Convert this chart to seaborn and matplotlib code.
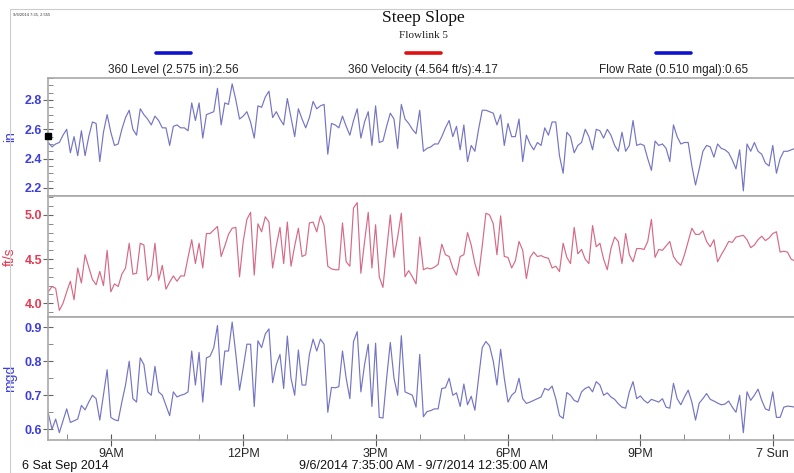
import pandas as pd
import numpy as np
import matplotlib
matplotlib.use('Agg')
import matplotlib.pyplot as plt
import matplotlib.dates as mdates
from matplotlib.ticker import MultipleLocator, FuncFormatter
from matplotlib.patches import Rectangle
import seaborn as sns

sns.set_style('white')
plt.rcParams['font.family'] = ['Liberation Sans', 'DejaVu Sans']

# 5-minute readings, 9/6/2014 7:35 AM - 9/7/2014 12:35 AM
times = pd.date_range('2014-09-06 07:35', '2014-09-07 00:35', freq='5min')

level = [
    2.51, 2.48, 2.50, 2.51, 2.56, 2.60, 2.44, 2.55, 2.42, 2.59,
    2.42, 2.55, 2.65, 2.64, 2.38, 2.58, 2.70, 2.58, 2.49, 2.50,
    2.60, 2.68, 2.73, 2.60, 2.56, 2.74, 2.70, 2.67, 2.63, 2.69,
    2.66, 2.61, 2.61, 2.49, 2.62, 2.63, 2.61, 2.61, 2.59, 2.78,
    2.66, 2.78, 2.54, 2.70, 2.71, 2.72, 2.88, 2.63, 2.78, 2.77,
    2.91, 2.80, 2.67, 2.69, 2.72, 2.65, 2.54, 2.76, 2.75, 2.82,
    2.86, 2.68, 2.72, 2.67, 2.63, 2.81, 2.68, 2.55, 2.74, 2.67,
    2.61, 2.68, 2.79, 2.74, 2.76, 2.77, 2.43, 2.64, 2.63, 2.61,
    2.69, 2.62, 2.56, 2.66, 2.74, 2.54, 2.65, 2.72, 2.49, 2.76,
    2.51, 2.52, 2.62, 2.71, 2.67, 2.47, 2.77, 2.67, 2.64, 2.60,
    2.57, 2.73, 2.45, 2.47, 2.48, 2.50, 2.50, 2.55, 2.61, 2.66,
    2.55, 2.62, 2.46, 2.63, 2.38, 2.49, 2.45, 2.60, 2.73, 2.73,
    2.72, 2.71, 2.63, 2.70, 2.49, 2.64, 2.55, 2.55, 2.67, 2.38,
    2.56, 2.50, 2.46, 2.51, 2.49, 2.61, 2.56, 2.65, 2.65, 2.42,
    2.30, 2.58, 2.55, 2.44, 2.49, 2.51, 2.60, 2.55, 2.46, 2.60,
    2.59, 2.54, 2.60, 2.56, 2.49, 2.45, 2.58, 2.45, 2.49, 2.66,
    2.49, 2.50, 2.49, 2.40, 2.32, 2.52, 2.49, 2.50, 2.47, 2.38,
    2.63, 2.55, 2.50, 2.51, 2.51, 2.35, 2.22, 2.33, 2.45, 2.49,
    2.48, 2.41, 2.50, 2.47, 2.46, 2.44, 2.39, 2.33, 2.46, 2.18,
    2.50, 2.45, 2.51, 2.45, 2.43, 2.37, 2.35, 2.49, 2.30, 2.40,
    2.45, 2.45, 2.46, 2.47, 2.47,
]

velocity = [
    4.13, 4.19, 4.17, 3.92, 4.00, 4.13, 4.25, 4.04, 4.40, 4.23,
    4.55, 4.41, 4.27, 4.21, 4.36, 4.20, 4.60, 4.13, 4.22, 4.19,
    4.33, 4.40, 4.68, 4.33, 4.34, 4.68, 4.66, 4.26, 4.32, 4.68,
    4.26, 4.43, 4.16, 4.24, 4.31, 4.25, 4.31, 4.31, 4.52, 4.72,
    4.45, 4.68, 4.40, 4.79, 4.79, 4.83, 4.87, 4.53, 4.65, 4.78,
    4.85, 4.86, 4.30, 4.70, 4.95, 5.03, 4.32, 4.90, 4.81, 4.98,
    4.92, 4.40, 4.65, 4.86, 4.45, 4.92, 4.42, 4.65, 4.85, 4.53,
    4.55, 4.91, 4.92, 4.81, 4.99, 4.88, 4.42, 4.39, 4.38, 4.38,
    4.91, 4.47, 4.42, 5.08, 5.14, 4.34, 4.70, 5.03, 4.40, 4.89,
    4.30, 4.18, 4.60, 5.00, 4.52, 4.75, 5.02, 4.30, 4.37, 4.30,
    4.22, 4.75, 4.38, 4.40, 4.39, 4.41, 4.44, 4.67, 4.55, 4.53,
    4.40, 4.32, 4.53, 4.55, 4.80, 4.66, 4.45, 4.31, 4.65, 5.02,
    5.00, 4.90, 4.55, 4.99, 4.53, 4.52, 4.40, 4.48, 4.70, 4.60,
    4.28, 4.52, 4.58, 4.53, 4.54, 4.52, 4.51, 4.40, 4.42, 4.36,
    4.68, 4.52, 4.45, 4.86, 4.56, 4.61, 4.50, 4.45, 4.88, 4.64,
    4.68, 4.50, 4.38, 4.62, 4.75, 4.70, 4.45, 4.79, 4.55, 4.47,
    4.62, 4.62, 4.61, 4.70, 4.95, 4.52, 4.61, 4.60, 4.65, 4.70,
    4.53, 4.47, 4.43, 4.55, 4.70, 4.85, 4.78, 4.78, 4.82, 4.70,
    4.64, 4.72, 4.47, 4.55, 4.62, 4.70, 4.69, 4.75, 4.76, 4.77,
    4.72, 4.63, 4.66, 4.72, 4.76, 4.71, 4.74, 4.79, 4.81, 4.58,
    4.59, 4.58, 4.50, 4.48, 4.45,
]

flow = [
    0.647, 0.600, 0.630, 0.590, 0.625, 0.660, 0.620, 0.625, 0.630, 0.670,
    0.657, 0.680, 0.700, 0.690, 0.627, 0.700, 0.775, 0.635, 0.628, 0.625,
    0.680, 0.730, 0.800, 0.690, 0.680, 0.810, 0.790, 0.710, 0.700, 0.785,
    0.710, 0.700, 0.670, 0.640, 0.710, 0.695, 0.700, 0.703, 0.710, 0.830,
    0.730, 0.826, 0.680, 0.810, 0.815, 0.840, 0.905, 0.730, 0.830, 0.830,
    0.915, 0.820, 0.715, 0.780, 0.850, 0.850, 0.667, 0.860, 0.840, 0.880,
    0.895, 0.737, 0.790, 0.820, 0.720, 0.874, 0.750, 0.700, 0.833, 0.730,
    0.730, 0.820, 0.865, 0.830, 0.865, 0.850, 0.650, 0.723, 0.722, 0.725,
    0.830, 0.750, 0.690, 0.858, 0.887, 0.710, 0.790, 0.850, 0.667, 0.853,
    0.635, 0.633, 0.750, 0.855, 0.750, 0.700, 0.875, 0.710, 0.705, 0.700,
    0.665, 0.820, 0.637, 0.652, 0.655, 0.660, 0.660, 0.720, 0.722, 0.750,
    0.700, 0.707, 0.667, 0.733, 0.672, 0.697, 0.656, 0.750, 0.840, 0.858,
    0.845, 0.800, 0.730, 0.835, 0.750, 0.680, 0.700, 0.710, 0.750, 0.690,
    0.676, 0.680, 0.685, 0.690, 0.695, 0.720, 0.715, 0.727, 0.690, 0.640,
    0.632, 0.708, 0.700, 0.685, 0.680, 0.710, 0.720, 0.725, 0.710, 0.740,
    0.730, 0.700, 0.707, 0.695, 0.688, 0.675, 0.665, 0.662, 0.710, 0.740,
    0.690, 0.698, 0.685, 0.677, 0.688, 0.684, 0.680, 0.690, 0.665, 0.662,
    0.735, 0.690, 0.672, 0.695, 0.715, 0.680, 0.627, 0.677, 0.690, 0.705,
    0.688, 0.683, 0.677, 0.672, 0.674, 0.683, 0.665, 0.650, 0.700, 0.590,
    0.710, 0.685, 0.700, 0.718, 0.685, 0.660, 0.655, 0.710, 0.635, 0.635,
    0.665, 0.668, 0.667, 0.665, 0.663,
]

cursor_value = 2.555
legend_labels = ['360 Level (2.575 in):2.56',
                 '360 Velocity (4.564 ft/s):4.17',
                 'Flow Rate (0.510 mgal):0.65']
legend_colors = ['#1010d0', '#e01010', '#1010d0']

df = pd.DataFrame({'time': times, 'level': level, 'velocity': velocity, 'flow': flow})

blue_line = '#7474c4'
red_line = '#d66a86'
blue_txt = '#3c3ce0'
red_txt = '#e8384f'
frame = '#a8a8a8'

fig = plt.figure(figsize=(7.94, 4.73), dpi=100)
fig.patches.append(Rectangle((10 / 794, 0), 1, 1 - 9 / 473, transform=fig.transFigure,
                             fill=False, edgecolor='#cccccc', lw=0.8))

left, width = 48.3 / 794, (798.5 - 48.3) / 794
ax1 = fig.add_axes([left, 1 - 196 / 473, width, (196 - 78) / 473])
ax2 = fig.add_axes([left, 1 - 317 / 473, width, (317 - 196) / 473], sharex=ax1)
ax3 = fig.add_axes([left, 1 - 440 / 473, width, (440 - 317) / 473], sharex=ax1)

panels = [
    (ax1, 'level', blue_line, blue_txt, 'in', (2.145, 2.95), 0.2, 0.05),
    (ax2, 'velocity', red_line, red_txt, 'ft/s', (3.845, 5.215), 0.5, 0.1),
    (ax3, 'flow', blue_line, blue_txt, 'mgd', (0.5685, 0.930), 0.1, 0.05),
]

for ax, col, lc, tc, unit, ylim, major, minor in panels:
    sns.lineplot(data=df, x='time', y=col, ax=ax, color=lc, lw=0.85)
    ax.set_ylim(*ylim)
    ax.yaxis.set_major_locator(MultipleLocator(major))
    ax.yaxis.set_minor_locator(MultipleLocator(minor))
    ax.yaxis.set_major_formatter(FuncFormatter(lambda v, p: '%.1f' % v))
    ax.tick_params(axis='y', which='major', left=True, direction='inout', length=7, width=0.8,
                   color='#666666', labelcolor=tc, labelsize=9, pad=1)
    ax.tick_params(axis='y', which='minor', left=True, direction='in', length=3.5, width=0.6,
                   color='#777777')
    for t in ax.get_yticklabels():
        t.set_fontweight('bold')
    ax.set_xlabel('')
    ax.set_ylabel(unit, color=tc, fontsize=10)
    ax.yaxis.set_label_coords(-0.042, 0.5)
    for s in ax.spines.values():
        s.set_color(frame)
        s.set_linewidth(1.2)
    ax.grid(False)

for ax in (ax1, ax2):
    ax.tick_params(axis='x', which='both', bottom=False, labelbottom=False)

ax1.plot([times[0]], [cursor_value], marker='s', ms=4, color='black', clip_on=False, zorder=5)

ax3.set_xlim(times[0], times[-1])
ax3.xaxis.set_major_locator(mdates.HourLocator(byhour=range(0, 24, 3)))
ax3.xaxis.set_minor_locator(mdates.HourLocator())


def hour_label(v, pos):
    d = mdates.num2date(v)
    if d.hour == 0:
        return '%d %s' % (d.day, d.strftime('%a'))
    h = d.hour % 12 or 12
    return '%d%s' % (h, 'AM' if d.hour < 12 else 'PM')


ax3.xaxis.set_major_formatter(FuncFormatter(hour_label))
ax3.tick_params(axis='x', which='major', bottom=True, direction='inout', length=9, width=0.8,
                color='#555555', labelsize=9, pad=1)
ax3.tick_params(axis='x', which='minor', bottom=True, direction='in', length=4.5, width=0.6,
                color='#777777')

# title and legend
cx = left + width / 2
fig.text(cx, 1 - 18 / 473, 'Steep Slope', ha='center', va='center',
         family='Liberation Serif', fontsize=12.5, color='#111111')
fig.text(cx, 1 - 36 / 473, 'Flowlink 5', ha='center', va='center',
         family='Liberation Serif', fontsize=8, color='#222222')
for k, (lab, c) in enumerate(zip(legend_labels, legend_colors)):
    xc = left + width * (2 * k + 1) / 6
    fig.add_artist(plt.Line2D([xc - 17.5 / 794, xc + 17.5 / 794], [1 - 53 / 473] * 2,
                              color=c, lw=2.6, transform=fig.transFigure))
    fig.text(xc, 1 - 70 / 473, lab, ha='center', va='center', fontsize=8.5, color='#222222')

fig.text(13 / 794, 1 - 15 / 473, '9/6/2014 7:35, 2.555', fontsize=3, color='#333333', va='center')
fig.text(22 / 794, 1 - 466 / 473, '6 Sat Sep 2014', fontsize=9, va='center', color='#111111')
fig.text(cx, 1 - 466 / 473, '9/6/2014 7:35:00 AM - 9/7/2014 12:35:00 AM', ha='center',
         va='center', fontsize=9, color='#111111')

plt.savefig('out.png', dpi=100)
plt.close(fig)
